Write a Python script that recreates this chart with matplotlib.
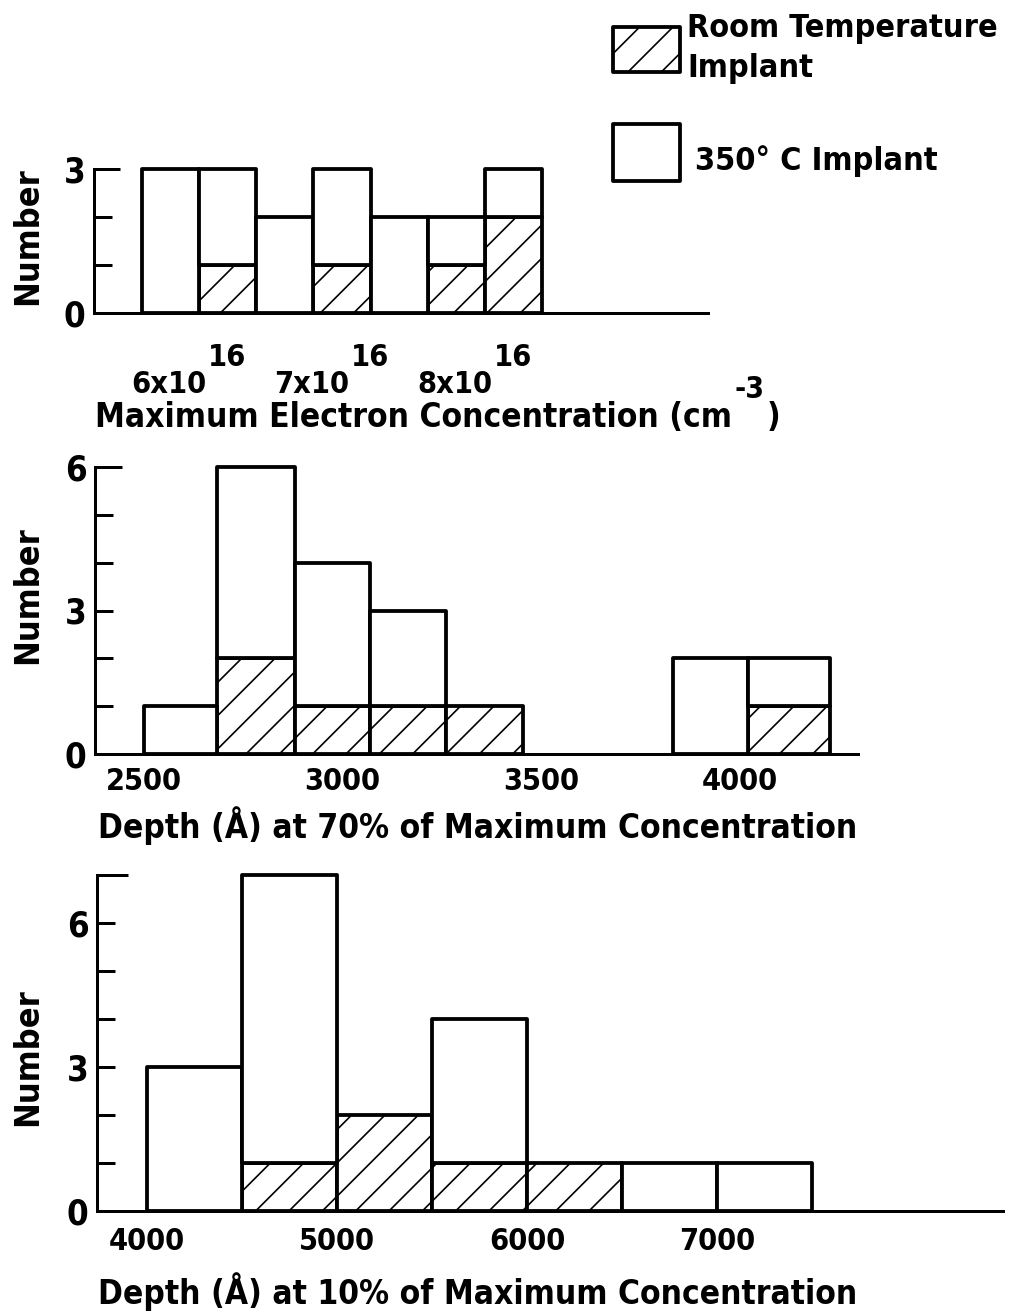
import matplotlib
matplotlib.use("Agg")
import matplotlib.pyplot as plt
from matplotlib import font_manager
from matplotlib.patches import Rectangle
import numpy as np

# ---------------- data ----------------
# Panel 1: maximum electron concentration (bins in units of 1e16 cm^-3)
conc_left = [5.6, 6.0, 6.4, 6.8, 7.2, 7.6, 8.0]
conc_right = [6.0, 6.4, 6.8, 7.2, 7.6, 8.0, 8.4]
conc_rt = [0, 1, 0, 1, 0, 1, 2]      # room temperature implant (hatched)
conc_hot = [3, 2, 2, 2, 2, 1, 1]     # 350 C implant (open)
conc_ticks = [6, 7, 8]
conc_ticklabels = ["6x10", "7x10", "8x10"]
conc_tickexp = ["16", "16", "16"]
conc_yticks = [0, 1, 2, 3]
conc_yticklabels = ["0", "", "", "3"]

# Panel 2: depth (A) at 70% of maximum concentration
d70_left = [2500, 2685, 2880, 3070, 3260, 3830, 4020]
d70_right = [2685, 2880, 3070, 3260, 3455, 4020, 4225]
d70_rt = [0, 2, 1, 1, 1, 0, 1]
d70_hot = [1, 4, 3, 2, 0, 2, 1]
d70_ticks = [2500, 3000, 3500, 4000]
d70_yticks = [0, 1, 2, 3, 4, 5, 6]
d70_yticklabels = ["0", "", "", "3", "", "", "6"]

# Panel 3: depth (A) at 10% of maximum concentration
d10_left = [4000, 4500, 5000, 5500, 6000, 6500, 7000]
d10_right = [4500, 5000, 5500, 6000, 6500, 7000, 7500]
d10_rt = [0, 1, 2, 1, 1, 0, 0]
d10_hot = [3, 6, 0, 3, 0, 1, 1]
d10_ticks = [4000, 5000, 6000, 7000]
d10_yticks = [0, 1, 2, 3, 4, 5, 6, 7]
d10_yticklabels = ["0", "", "", "3", "", "", "6", ""]

xlabel1 = "Maximum Electron Concentration (cm"
xlabel1_exp = "-3"
xlabel2 = "Depth (Å) at 70% of Maximum Concentration"
xlabel3 = "Depth (Å) at 10% of Maximum Concentration"
ylabel = "Number"
legend_rt = ["Room Temperature", "Implant"]
legend_hot = "350° C Implant"

# ---------------- fonts ----------------
fm = font_manager.fontManager
if any(f.name == "DejaVu Sans" and f.stretch == "condensed" for f in fm.ttflist):
    FAM, STRETCH, FSC = "DejaVu Sans", "condensed", 1.0
elif any(f.name == "Liberation Sans Narrow" for f in fm.ttflist):
    FAM, STRETCH, FSC = "Liberation Sans Narrow", "normal", 1.25
else:
    FAM, STRETCH, FSC = "DejaVu Sans", "normal", 0.9
plt.rcParams["font.family"] = [FAM, "DejaVu Sans"]
plt.rcParams["font.weight"] = "bold"
plt.rcParams["font.stretch"] = STRETCH
plt.rcParams["hatch.linewidth"] = 0.6
plt.rcParams["hatch.color"] = "black"

FS_LAB = 12.0 * FSC
FS_YLAB = 12.3 * FSC
FS_XT = 11.0 * FSC
FS_YT = 12.5 * FSC
FS_LEG = 11.6 * FSC

W, H = 1015, 1316
DPI = 200
PX = 72.0 / DPI  # points per pixel
BAR_LW = 3.8 * PX
SPINE_LW = 3.0 * PX
TICK_LEN = 18 * PX
HATCH = "//"

fig = plt.figure(figsize=(W / DPI, H / DPI), dpi=DPI, facecolor="white")


def fx(x):
    return x / W


def fy(y):
    return 1 - y / H


def make_axes(left, right, top, bottom):
    return fig.add_axes([fx(left), fy(bottom), (right - left) / W, (bottom - top) / H])


def draw_hist(ax, left, right, rt, hot):
    left = np.asarray(left, float)
    width = np.asarray(right, float) - left
    rt = np.asarray(rt, float)
    hot = np.asarray(hot, float)
    m = rt > 0
    ax.bar(left[m], rt[m], width=width[m], align="edge", bottom=0,
           facecolor="white", edgecolor="black", hatch=HATCH, linewidth=BAR_LW,
           clip_on=False, zorder=3, joinstyle="round")
    m2 = hot > 0
    ax.bar(left[m2], hot[m2], width=width[m2], align="edge", bottom=rt[m2],
           facecolor="white", edgecolor="black", linewidth=BAR_LW,
           clip_on=False, zorder=3, joinstyle="round")


def style_axes(ax, xlim, ylim, yticks, yticklabels, xtick_pad, top_tick_px):
    ax.set_xlim(*xlim)
    ax.set_ylim(*ylim)
    for s in ["top", "right"]:
        ax.spines[s].set_visible(False)
    for s in ["left", "bottom"]:
        ax.spines[s].set_linewidth(SPINE_LW)
    ax.set_yticks(yticks)
    ax.set_yticklabels(yticklabels)
    ax.tick_params(axis="y", direction="in", length=TICK_LEN, width=SPINE_LW,
                   pad=3, labelsize=FS_YT)
    ax.tick_params(axis="x", length=0, pad=xtick_pad, labelsize=FS_XT)
    ax.patch.set_alpha(0)
    axw = ax.get_position().width * W
    ax.plot([0, top_tick_px / axw], [ylim[1], ylim[1]],
            transform=ax.get_yaxis_transform(), color="black", lw=SPINE_LW,
            clip_on=False, solid_capstyle="butt")


# ---------------- panel 1 ----------------
ax1 = make_axes(94, 708, 169, 313)
draw_hist(ax1, conc_left, conc_right, conc_rt, conc_hot)
style_axes(ax1, (5.264, 9.561), (0, 3), conc_yticks, conc_yticklabels, 5, 26)
ax1.set_xticks([])
for v, lab, ex in zip(conc_ticks, conc_ticklabels, conc_tickexp):
    base = ax1.annotate(lab, xy=(v, 0), xycoords=("data", "axes fraction"),
                        xytext=(7 * PX, -80 * PX), textcoords="offset points",
                        ha="right", va="baseline", fontsize=FS_XT,
                        annotation_clip=False)
    ax1.annotate(ex, xy=(1, 1), xycoords=base, xytext=(2 * PX, -2 * PX),
                 textcoords="offset points", ha="left", va="bottom",
                 fontsize=FS_XT, annotation_clip=False)

t1 = fig.text(fx(95), fy(427), xlabel1, ha="left", va="baseline", fontsize=FS_LAB)
t2 = ax1.annotate(xlabel1_exp, xy=(1, 1), xycoords=t1, xytext=(2 * PX, -3 * PX),
                  textcoords="offset points", ha="left", va="bottom",
                  fontsize=FS_LAB * 0.9, annotation_clip=False)
t3 = ax1.annotate(")", xy=(1, 0), xycoords=(t2, t1), xytext=(3 * PX, 0),
                  textcoords="offset points", ha="left", va="bottom",
                  fontsize=FS_LAB, annotation_clip=False)

# ---------------- panel 2 ----------------
ax2 = make_axes(95, 858, 467, 754)
draw_hist(ax2, d70_left, d70_right, d70_rt, d70_hot)
style_axes(ax2, (2378, 4296), (0, 6), d70_yticks, d70_yticklabels, 13 * PX, 27)
ax2.set_xticks(d70_ticks)
ax2.set_xticklabels([str(t) for t in d70_ticks])
fig.text(fx(98), fy(838), xlabel2, ha="left", va="baseline", fontsize=FS_LAB)

# ---------------- panel 3 ----------------
ax3 = make_axes(97, 1003, 875, 1211)
draw_hist(ax3, d10_left, d10_right, d10_rt, d10_hot)
style_axes(ax3, (3737, 8505), (0, 7), d10_yticks, d10_yticklabels, 16 * PX, 31)
ax3.set_xticks(d10_ticks)
ax3.set_xticklabels([str(t) for t in d10_ticks])
fig.text(fx(98), fy(1304), xlabel3, ha="left", va="baseline", fontsize=FS_LAB)

# y labels
for yc in (236, 595, 1057):
    fig.text(fx(28), fy(yc), ylabel, rotation=90, ha="center", va="center",
             fontsize=FS_YLAB)

# ---------------- legend ----------------
r1 = Rectangle((fx(613), fy(72)), (680 - 613) / W, (72 - 27) / H,
               transform=fig.transFigure, facecolor="white", edgecolor="black",
               hatch=HATCH, linewidth=BAR_LW, joinstyle="round")
r2 = Rectangle((fx(613), fy(181)), (680 - 613) / W, (181 - 124) / H,
               transform=fig.transFigure, facecolor="white", edgecolor="black",
               linewidth=BAR_LW, joinstyle="round")
fig.patches.extend([r1, r2])
fig.text(fx(687), fy(37), legend_rt[0], ha="left", va="baseline", fontsize=FS_LEG)
fig.text(fx(687), fy(77), legend_rt[1], ha="left", va="baseline", fontsize=FS_LEG)
fig.text(fx(695), fy(170), legend_hot, ha="left", va="baseline", fontsize=FS_LEG)

fig.savefig("out.png", dpi=DPI, facecolor="white")
